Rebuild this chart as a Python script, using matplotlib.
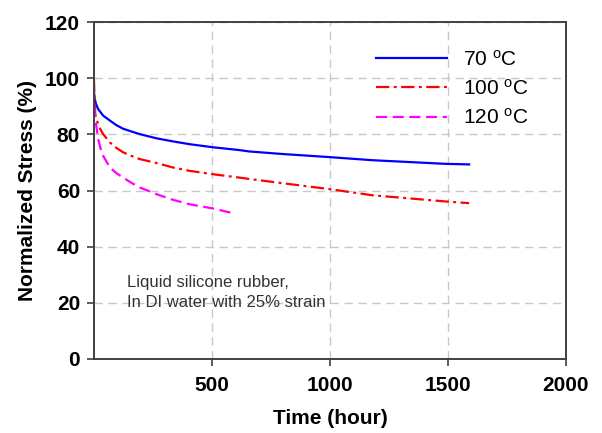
import matplotlib
matplotlib.use('Agg')
import matplotlib.pyplot as plt

plt.rcParams['font.family'] = ['Liberation Sans', 'DejaVu Sans']
plt.rcParams['mathtext.default'] = 'regular'

# values
t_70 = [0, 2, 8, 18, 39, 68, 95, 124, 160, 194, 265, 335, 406, 505, 617, 660, 800, 998, 1180, 1491, 1590]
s_70 = [95, 93.5, 91, 89, 86.7, 84.9, 83.3, 82.0, 81.0, 80.1, 78.6, 77.5, 76.5, 75.4, 74.4, 73.9, 73.0, 71.9, 70.8, 69.5, 69.3]

t_100 = [0, 3, 6, 11, 20, 39, 68, 95, 124, 160, 194, 265, 335, 406, 505, 617, 660, 800, 998, 1181, 1491, 1590]
s_100 = [100, 92, 87, 85.5, 83, 80.1, 77.1, 75.2, 73.6, 72.3, 71.2, 69.8, 68.2, 67, 65.8, 64.6, 64.1, 62.6, 60.5, 58.3, 56.1, 55.5]

t_120 = [0, 1, 4, 8, 18, 28, 39, 68, 95, 124, 160, 194, 265, 335, 406, 505, 596]
s_120 = [96, 94, 88, 84.3, 78.3, 75, 72.4, 68.2, 66.2, 64.6, 62.7, 61.1, 58.7, 56.7, 55.1, 53.6, 51.8]

labels = ['70 $^o$C', '100 $^o$C', '120 $^o$C']
x_ticks = [500, 1000, 1500, 2000]
y_ticks = [0, 20, 40, 60, 80, 100, 120]

fig = plt.figure(figsize=(6.02, 4.33), dpi=100)
ax = fig.add_axes([0.156, 0.171, 0.784, 0.778])

ax.plot(t_70, s_70, color='#0000ff', lw=1.6, label=labels[0])
ax.plot(t_100, s_100, color='#ff0000', lw=1.6, dashes=(6, 2, 1.3, 2), label=labels[1])
ax.plot(t_120, s_120, color='#ff00ff', lw=1.6, dashes=(5, 2.5), label=labels[2])

ax.set_xlim(0, 2000)
ax.set_ylim(0, 120)
ax.set_xticks(x_ticks)
ax.set_yticks(y_ticks)
ax.grid(True, color='#c8c8c8', linestyle=(0, (6, 4)), linewidth=1)
ax.set_axisbelow(True)

for sp in ax.spines.values():
    sp.set_color('#404040')
    sp.set_linewidth(1.4)

ax.tick_params(axis='both', direction='out', length=5, width=1.2, color='#404040',
               labelsize=15)
ax.tick_params(axis='x', pad=7)
ax.tick_params(axis='y', pad=5)
for lab in ax.get_xticklabels() + ax.get_yticklabels():
    lab.set_fontweight('bold')

ax.set_xlabel('Time (hour)', fontsize=15, fontweight='bold', labelpad=10)
ax.set_ylabel('Normalized Stress (%)', fontsize=15, fontweight='bold', labelpad=6)

ax.legend(loc='upper left', bbox_to_anchor=(0.575, 0.95), frameon=False, fontsize=15,
          handlelength=3.4, handletextpad=0.8, labelspacing=0.45, borderpad=0)

ax.text(0.07, 0.25, 'Liquid silicone rubber,\nIn DI water with 25% strain',
        transform=ax.transAxes, fontsize=12, color='#333333', va='top', ha='left',
        linespacing=1.45)

fig.savefig('out.png', dpi=100)
